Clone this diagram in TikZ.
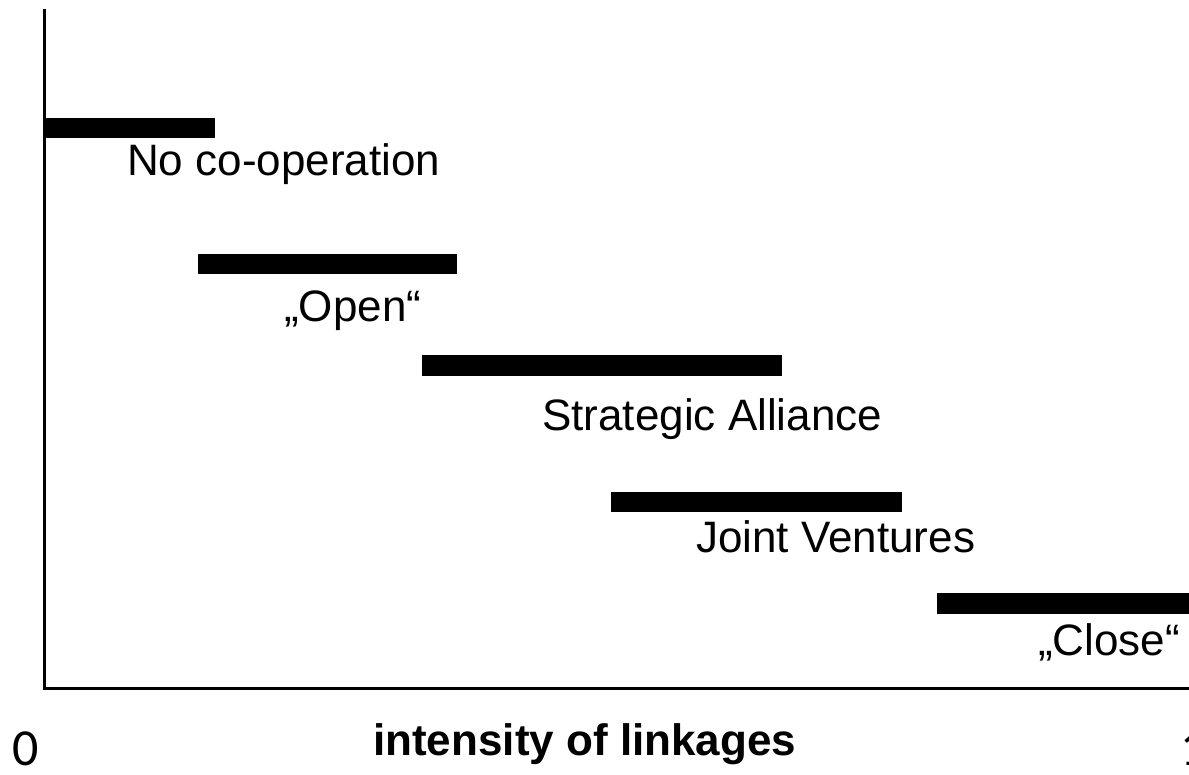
\documentclass[tikz,border=0pt]{standalone}
\usepackage{fontspec}
\setmainfont{Liberation Sans}
\newfontfamily\digitfont{Carlito}
\begin{document}
\begin{tikzpicture}[x=1pt,y={(0pt,-1pt)},
  axis/.style={line width=3pt,line cap=rect},
  bar/.style={fill=black},
  lab/.style={anchor=base west,inner sep=0pt,font=\fontsize{44}{52}\selectfont},
  axlab/.style={anchor=base west,inner sep=0pt,font=\bfseries\fontsize{44}{52}\selectfont},
  digit/.style={anchor=base west,inner sep=0pt,font=\digitfont\fontsize{52}{60}\selectfont}]
\useasboundingbox (0,0) rectangle (1189,774);
\clip (0,0) rectangle (1189,774);
% axes
\coordinate (top) at (44,10);
\coordinate (origin) at (44,688);
\coordinate (right) at (1189,688);
\draw[axis] (top) -- (origin) -- (right);
% bars
\fill[bar] (44,118) rectangle (215,138);
\fill[bar] (198,254) rectangle (457,274);
\fill[bar] (422,355) rectangle (782,376);
\fill[bar] (611,492) rectangle (902,512);
\fill[bar] (937,593) rectangle (1200,614);
% labels
\node[lab] (none) at (127,175) {No co-operation};
\node[lab] (open) at (284,321) {„Open“};
\node[lab] (alliance) at (542,430) {Strategic Alliance};
\node[lab] (jv) at (696,552) {Joint Ventures};
\node[lab] (close) at (1038,655) {„Close“};
\node[axlab] (xlabel) at (373,755) {intensity of linkages};
\node[digit] (zero) at (12,765) {0};
\node[digit] (one) at (1180,765) {1};
\end{tikzpicture}
\end{document}
